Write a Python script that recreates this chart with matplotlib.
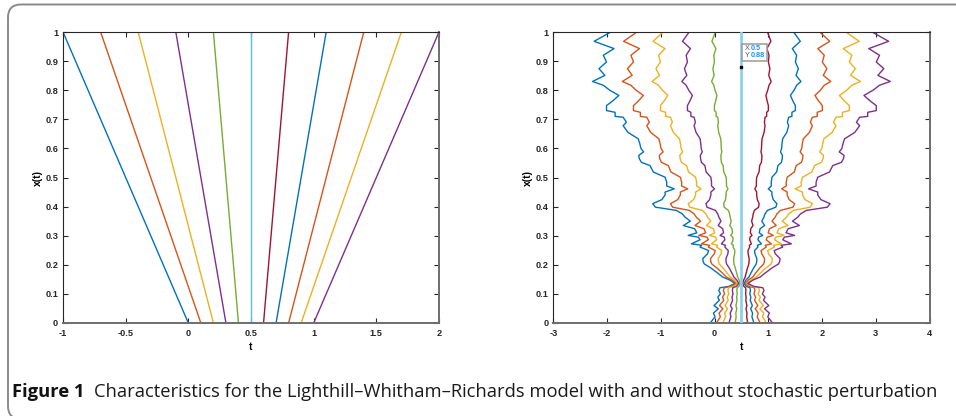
import matplotlib
matplotlib.use('Agg')
import matplotlib.pyplot as plt
from matplotlib.patches import FancyBboxPatch, Rectangle
from matplotlib import font_manager

# ---------------- data ----------------
# left panel: straight characteristics, t at x=0 and t at x=1
t_start = [0.0, 0.1, 0.2, 0.3, 0.4, 0.5, 0.6, 0.7, 0.8, 0.9, 1.0]
t_end = [-1.0, -0.7, -0.4, -0.1, 0.2, 0.5, 0.8, 1.1, 1.4, 1.7, 2.0]
x_ends = [0.0, 1.0]

# right panel: stochastic characteristics; outermost (leftmost) curve
x_levels = [0.000, 0.012, 0.021, 0.034, 0.049, 0.060, 0.078, 0.089, 0.100, 0.112,
            0.121, 0.126, 0.136, 0.148, 0.158, 0.170, 0.188, 0.203, 0.210, 0.221,
            0.238, 0.249, 0.261, 0.267, 0.272, 0.286, 0.295, 0.301, 0.310, 0.324,
            0.335, 0.350, 0.364, 0.375, 0.387, 0.398, 0.410, 0.424, 0.440, 0.450,
            0.461, 0.471, 0.484, 0.501, 0.519, 0.541, 0.552, 0.565, 0.576, 0.588,
            0.600, 0.616, 0.633, 0.655, 0.678, 0.690, 0.707, 0.710, 0.724, 0.730,
            0.747, 0.764, 0.782, 0.800, 0.817, 0.830, 0.851, 0.874, 0.897, 0.920,
            0.943, 0.968, 1.000]
t_outer = [-0.08, -0.03, 0.01, -0.02, 0.07, -0.01, 0.09, 0.06, 0.11, 0.08,
           0.10, 0.27, 0.38, 0.28, 0.15, 0.07, -0.06, -0.19, -0.21, -0.22,
           -0.13, -0.11, -0.27, -0.24, -0.43, -0.27, -0.30, -0.49, -0.33, -0.37,
           -0.58, -0.45, -0.55, -0.60, -0.71, -1.10, -1.15, -0.98, -0.92, -0.92,
           -0.75, -0.89, -0.89, -0.92, -1.14, -1.20, -1.36, -1.40, -1.41, -1.32,
           -1.37, -1.39, -1.42, -1.61, -1.70, -1.64, -1.70, -1.85, -1.85, -2.01,
           -2.01, -1.89, -1.78, -1.95, -2.07, -2.27, -2.04, -2.15, -2.01, -2.07,
           -1.87, -2.24, -1.93]
t_center = 0.5
spread = [1.0, 0.8, 0.6, 0.4, 0.2, 0.0, -0.2, -0.4, -0.6, -0.8, -1.0]

cursor_x, cursor_y = 0.5, 0.88

colors = ['#0072BD', '#D95319', '#EDB120', '#7E2F8E', '#77AC30', '#4DBEEE',
          '#A2142F', '#0072BD', '#D95319', '#EDB120', '#7E2F8E']

caption_bold = 'Figure 1'
caption_text = 'Characteristics for the Lighthill\u2013Whitham\u2013Richards model with and without stochastic perturbation'

# ---------------- figure ----------------
W, H = 956, 416
DPI = 100
fig = plt.figure(figsize=(W / DPI, H / DPI), dpi=DPI)
fig.patch.set_facecolor('white')

def rect(x0, x1, y0, y1):
    return [x0 / W, 1 - y1 / H, (x1 - x0) / W, (y1 - y0) / H]

def px(x, y):
    # pixel (top-left origin) -> inches (bottom-left origin)
    return x / DPI, (H - y) / DPI

# rounded frame (pixel geometry via inches)
fx0, fy0 = px(8, 419)
frame = FancyBboxPatch((fx0, fy0), (1000 - 8) / DPI, (419 - 4.5) / DPI,
                       boxstyle='round,pad=0,rounding_size=0.13',
                       transform=fig.dpi_scale_trans, facecolor='none',
                       edgecolor='#8a8a8a', linewidth=1.4, clip_on=False)
fig.patches.append(frame)

def style_axes(ax, xlim, xticks, xtl):
    ax.set_xlim(*xlim)
    ax.set_ylim(0, 1)
    ax.set_xticks(xticks)
    ax.set_xticklabels(xtl)
    yt = [i / 10 for i in range(11)]
    ax.set_yticks(yt)
    ax.set_yticklabels(['0', '0.1', '0.2', '0.3', '0.4', '0.5', '0.6', '0.7', '0.8', '0.9', '1'])
    ax.tick_params(direction='in', length=3.5, width=0.8, top=True, right=True,
                   colors='#262626', labelcolor='#262626')
    ax.tick_params(axis='x', pad=4.5)
    ax.tick_params(axis='y', pad=3.5)
    for lab in ax.get_xticklabels() + ax.get_yticklabels():
        lab.set_fontfamily('Liberation Sans')
        lab.set_fontweight('bold')
        lab.set_fontsize(6.6)
    for s in ['left', 'top']:
        ax.spines[s].set_color('#262626')
        ax.spines[s].set_linewidth(0.8)
    for s in ['bottom', 'right']:
        ax.spines[s].set_color('#6e6e6e')
        ax.spines[s].set_linewidth(1.4)
    ax.set_xlabel('t', fontfamily='Liberation Sans', fontweight='bold', fontsize=7.5, labelpad=3)
    ax.set_ylabel('x(t)', fontfamily='Liberation Sans', fontweight='bold', fontsize=7.5, labelpad=2)

# left panel
ax1 = fig.add_axes(rect(63, 439, 32, 323))
for i in range(len(t_start)):
    ax1.plot([t_start[i], t_end[i]], x_ends, color=colors[i], lw=1.0, solid_capstyle='butt')
style_axes(ax1, (-1, 2), [-1, -0.5, 0, 0.5, 1, 1.5, 2], ['-1', '-0.5', '0', '0.5', '1', '1.5', '2'])

# right panel
ax2 = fig.add_axes(rect(553.3, 929.5, 32, 323))
for i, s in enumerate(spread):
    tt = [t_center + s * (v - t_center) for v in t_outer]
    if s == 0:
        ax2.plot(tt, x_levels, color='#86CFEF', lw=1.9, zorder=3)
    else:
        ax2.plot(tt, x_levels, color=colors[i], lw=1.0, zorder=2)
style_axes(ax2, (-3, 4), [-3, -2, -1, 0, 1, 2, 3, 4], ['-3', '-2', '-1', '0', '1', '2', '3', '4'])

# data cursor
ax2.plot([cursor_x], [cursor_y], marker='s', ms=1.8, color='black', zorder=5)
bx0, by0 = px(741.5, 60.5)
bx = Rectangle((bx0, by0), 25.5 / DPI, 16.5 / DPI, transform=fig.dpi_scale_trans,
               facecolor='white', edgecolor='#9a9a9a', linewidth=1.1, zorder=6,
               clip_on=False)
ax2.add_patch(bx)
cfont = dict(family='Liberation Sans', size=5.2, zorder=7)
fig.text(744.5 / W, 1 - 48.3 / H, 'X', color='#555555', va='center', ha='left', **cfont)
fig.text(750.5 / W, 1 - 48.3 / H, f'{cursor_x:g}', color='#1f8fff', va='center', ha='left',
         fontweight='bold', **cfont)
fig.text(744.5 / W, 1 - 55.8 / H, 'Y', color='#555555', va='center', ha='left', **cfont)
fig.text(750.5 / W, 1 - 55.8 / H, f'{cursor_y:g}', color='#1f8fff', va='center', ha='left',
         fontweight='bold', **cfont)

# caption
def pick(fams):
    for f in fams:
        try:
            font_manager.findfont(f, fallback_to_default=False)
            return f
        except Exception:
            pass
    return 'DejaVu Sans'

cap_family = pick(['Liberation Sans Narrow', 'Open Sans', 'Noto Sans'])
renderer = fig.canvas.get_renderer()
size = 12.0
tb = fig.text(12 / W, 1 - 392 / H, caption_bold, fontfamily=cap_family, fontweight='bold',
              fontsize=size, va='center', ha='left', color='#111111')
tr = fig.text(0, 1 - 392 / H, caption_text, fontfamily=cap_family, fontsize=size,
              va='center', ha='left', color='#1a1a1a')
for _ in range(3):
    wb = tb.get_window_extent(renderer).width
    wr = tr.get_window_extent(renderer).width
    total = wb + 9 + wr
    size = size * (932 / total)
    tb.set_fontsize(size)
    tr.set_fontsize(size)
wb = tb.get_window_extent(renderer).width
tr.set_x((12 + wb + 9) / W)

fig.savefig('out.png', dpi=DPI, facecolor='white')
